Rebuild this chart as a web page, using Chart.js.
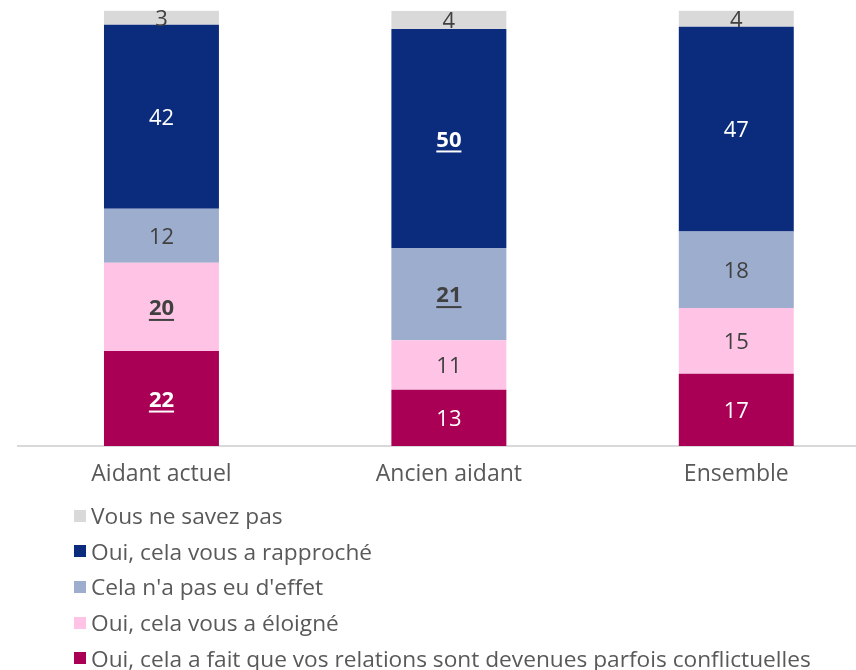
<!DOCTYPE html>
<html lang="fr">
<head>
<meta charset="utf-8">
<title>Relations</title>
<script src="https://cdn.jsdelivr.net/npm/chart.js@4/dist/chart.umd.min.js"></script>
<style>
  html, body { margin: 0; padding: 0; background: #fff; overflow: hidden; }
  #wrap { position: relative; width: 856px; height: 670px; overflow: hidden; }
  #chart { position: absolute; left: 0; top: 0; }
  #legend {
    position: absolute; left: 74px; top: 498px;
    font-family: "Open Sans", sans-serif; font-size: 22.7px; color: #595959;
  }
  .leg-item { display: flex; align-items: center; height: 35.6px; white-space: nowrap; }
  .leg-box { width: 12px; height: 12px; margin-right: 5px; flex: none; }
</style>
</head>
<body>
<div id="wrap">
  <canvas id="chart" width="880" height="500"></canvas>
  <div id="legend"></div>
</div>
<script>
// ------------------------------------------------------------
// Data (percentages)
// ------------------------------------------------------------
const categories = ['Aidant actuel', 'Ancien aidant', 'Ensemble'];

const conflictuelles = [21.8, 12.9, 16.6];
const eloigne        = [20.3, 11.4, 15.1];
const sansEffet      = [12.4, 21.2, 17.6];
const rapproche      = [42.3, 50.3, 47.0];
const neSaitPas      = [3.3, 4.2, 3.8];

// significant differences (bold + underlined labels)
const strongConflict = [true, false, false];
const strongEloigne  = [true, false, false];
const strongEffet    = [false, true, false];
const strongRappro   = [false, true, false];
const strongNsp      = [false, false, false];

const FONT = '"Open Sans", sans-serif';

/**
 * Draws the value in the middle of every segment
 */
const segmentLabels = {
  id: 'segmentLabels',
  afterDatasetsDraw(chart) {
    const ctx = chart.ctx;
    chart.data.datasets.forEach((ds, i) => {
      const meta = chart.getDatasetMeta(i);
      meta.data.forEach((bar, j) => {
        const txt = String(Math.round(ds.data[j]));
        const strong = ds.strong[j];
        const y = (bar.y + bar.base) / 2 + 2;
        ctx.save();
        ctx.font = (strong ? 'bold ' : '') + '22px ' + FONT;
        ctx.fillStyle = ds.labelColor;
        ctx.textAlign = 'center';
        ctx.textBaseline = 'middle';
        ctx.fillText(txt, bar.x, y);
        if (strong) {
          const w = ctx.measureText(txt).width;
          ctx.fillRect(bar.x - w / 2, y + 10, w, 2);
        }
        ctx.restore();
      });
    });
  }
};

const chart = new Chart(document.getElementById('chart'), {
  type: 'bar',
  plugins: [segmentLabels],
  data: {
    labels: categories,
    datasets: [
      { label: 'Oui, cela a fait que vos relations sont devenues parfois conflictuelles',
        data: conflictuelles, backgroundColor: '#A90056', labelColor: '#ffffff', strong: strongConflict },
      { label: 'Oui, cela vous a éloigné',
        data: eloigne, backgroundColor: '#FFC4E5', labelColor: '#404040', strong: strongEloigne },
      { label: "Cela n'a pas eu d'effet",
        data: sansEffet, backgroundColor: '#9DADCD', labelColor: '#404040', strong: strongEffet },
      { label: 'Oui, cela vous a rapproché',
        data: rapproche, backgroundColor: '#0B2B7C', labelColor: '#ffffff', strong: strongRappro },
      { label: 'Vous ne savez pas',
        data: neSaitPas, backgroundColor: '#D9D9D9', labelColor: '#404040', strong: strongNsp }
    ]
  },
  options: {
    responsive: false,
    animation: false,
    layout: { padding: { top: 10.7, left: 17.75, right: 0, bottom: 0 } },
    datasets: { bar: { categoryPercentage: 0.4, barPercentage: 1, borderWidth: 0 } },
    plugins: { legend: { display: false }, tooltip: { enabled: false } },
    scales: {
      x: {
        stacked: true,
        grid: { display: false, drawTicks: false },
        border: { display: true, color: '#D9D9D9', width: 2 },
        ticks: { color: '#595959', font: { family: FONT, size: 23 }, padding: 15 },
        afterFit: (scale) => { scale.height = 54; }
      },
      y: { stacked: true, display: false, min: 0, max: 100 }
    }
  }
});

// HTML legend, reversed order (top segment first)
const legend = document.getElementById('legend');
chart.data.datasets.slice().reverse().forEach(ds => {
  const item = document.createElement('div');
  item.className = 'leg-item';
  item.innerHTML = '<span class="leg-box" style="background:' + ds.backgroundColor + '"></span>' + ds.label;
  legend.appendChild(item);
});
</script>
</body>
</html>
